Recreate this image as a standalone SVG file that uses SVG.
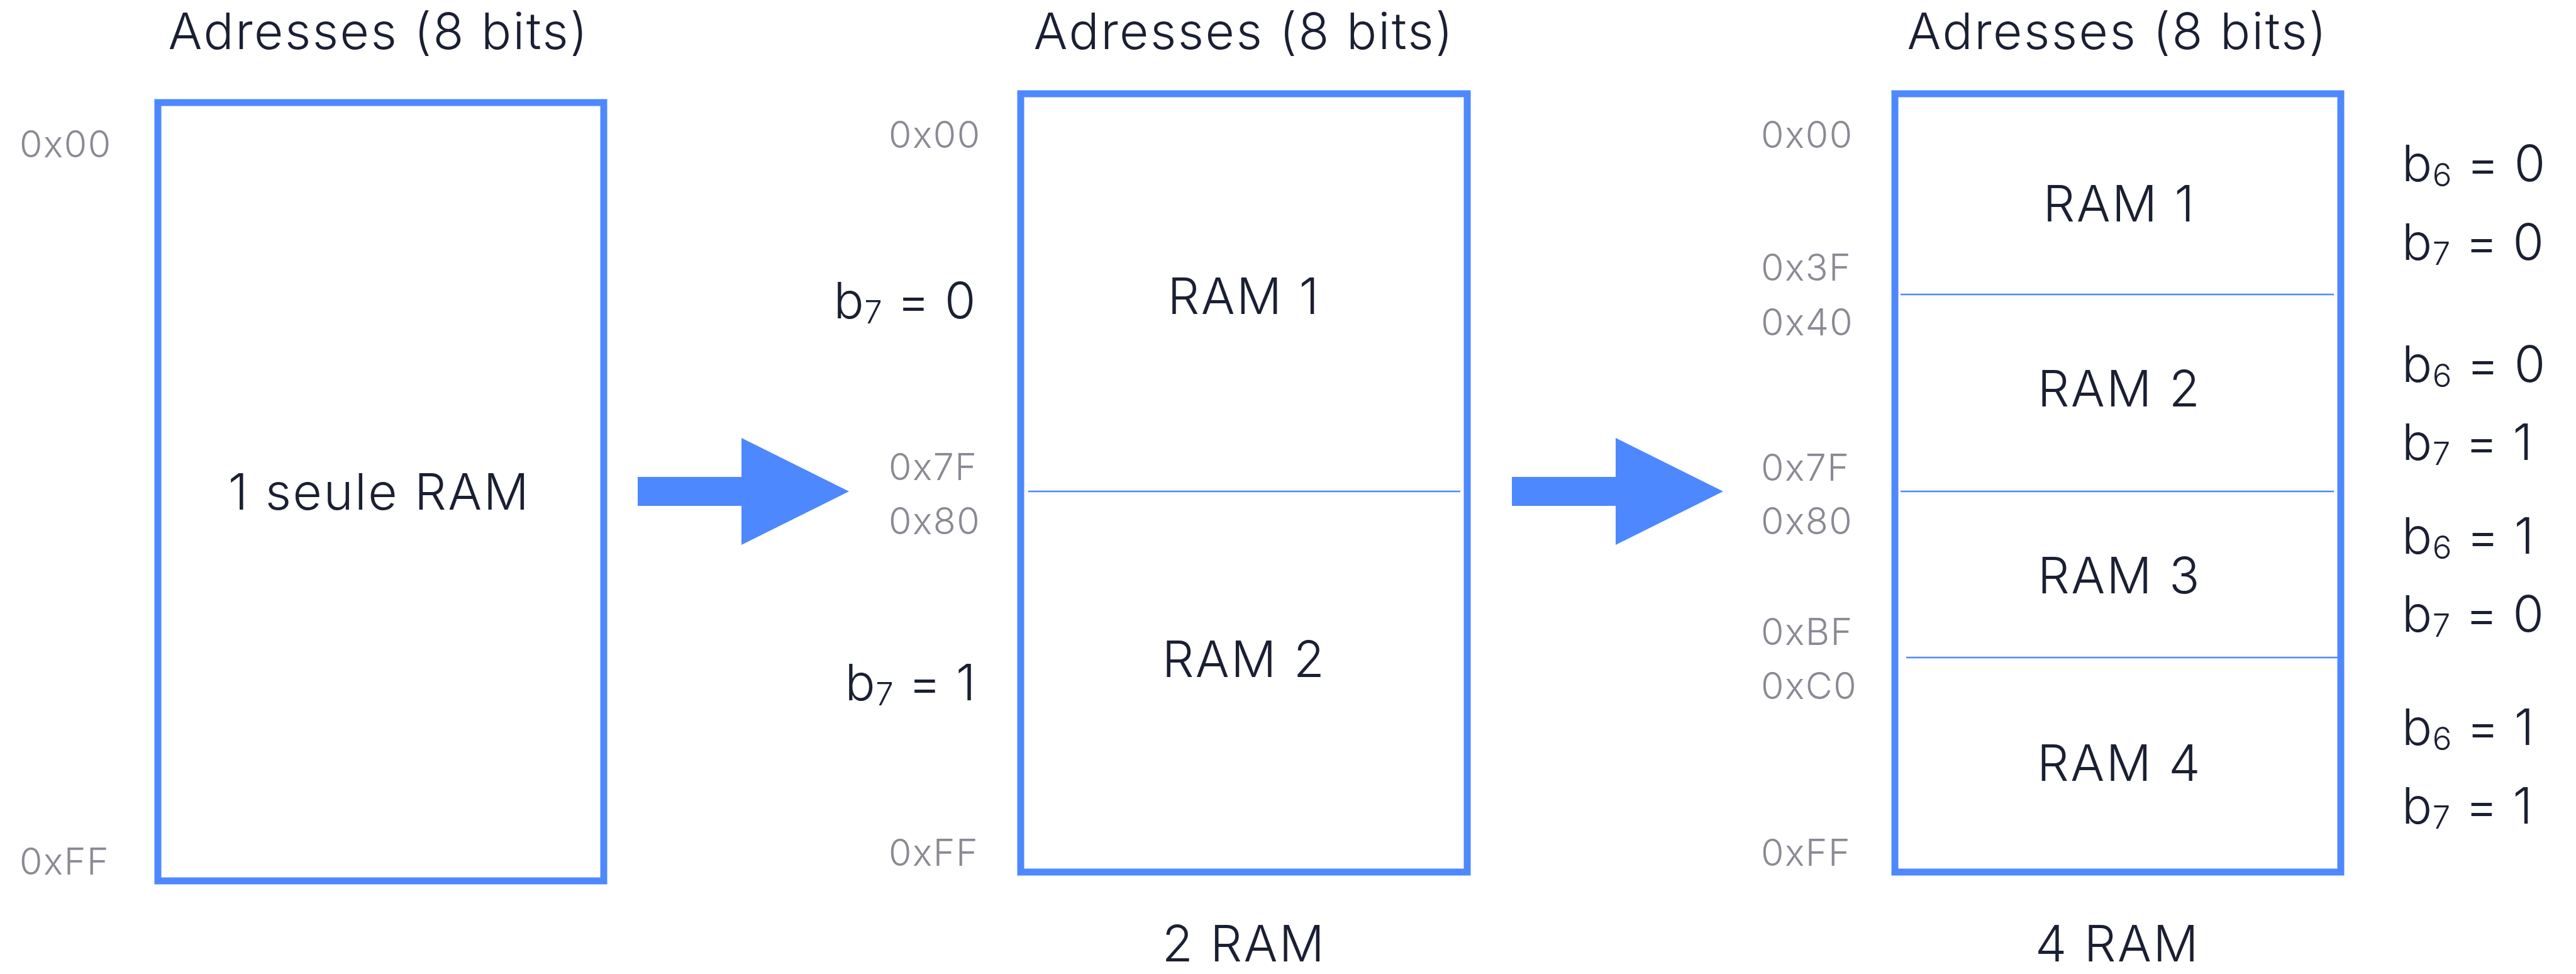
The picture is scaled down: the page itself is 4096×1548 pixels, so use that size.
<svg xmlns="http://www.w3.org/2000/svg" width="4096" height="1548" viewBox="0 0 4096 1548">
  <style>
    .frame { fill: none; stroke: #4D88FF; stroke-width: 11; }
    .split { stroke: #4D88FF; stroke-width: 2.5; }
    .arrow { fill: #4D88FF; }
    .txt { font-family: Inter, "Open Sans", "Liberation Sans", sans-serif; font-weight: 300; font-size: 80px; letter-spacing: 2.5px; fill: #1B1F33; }
    .bit { letter-spacing: 0.5px; }
    .mid { text-anchor: middle; }
    .end { text-anchor: end; }
    .addr { font-family: Inter, "Open Sans", "Liberation Sans", sans-serif; font-weight: 300; font-size: 59px; letter-spacing: 1.5px; fill: #8A8994; }
    .sub { font-size: 51px; }
  </style>
  <rect width="4096" height="1548" fill="#FFFFFF"/>

  <!-- single memory block -->
  <g id="one-ram">
    <text class="txt mid" x="602" y="78">Adresses (8 bits)</text>
    <rect class="frame" x="251" y="163" width="709" height="1237"/>
    <text class="txt mid" x="603" y="810">1 seule RAM</text>
    <text class="addr" x="31" y="250">0x00</text>
    <text class="addr" x="31" y="1390">0xFF</text>
  </g>

  <!-- split into two memories on b7 -->
  <g id="two-ram">
    <text class="txt mid" x="1978" y="78">Adresses (8 bits)</text>
    <rect class="frame" x="1623" y="149" width="710" height="1237"/>
    <line class="split" x1="1635" y1="781" x2="2322" y2="781"/>
    <text class="txt mid" x="1978" y="499">RAM 1</text>
    <text class="txt mid" x="1978" y="1076">RAM 2</text>
    <text class="addr" x="1413" y="235">0x00</text>
    <text class="addr" x="1413" y="763">0x7F</text>
    <text class="addr" x="1413" y="849">0x80</text>
    <text class="addr" x="1413" y="1376">0xFF</text>
    <text class="txt bit end" x="1552" y="506">b<tspan class="sub" dy="8">7</tspan><tspan dy="-8"> = 0</tspan></text>
    <text class="txt bit end" x="1552" y="1113">b<tspan class="sub" dy="8">7</tspan><tspan dy="-8"> = 1</tspan></text>
    <text class="txt mid" x="1978" y="1528">2 RAM</text>
  </g>

  <!-- split into four memories on b6/b7 -->
  <g id="four-ram">
    <text class="txt mid" x="3367" y="78">Adresses (8 bits)</text>
    <rect class="frame" x="3013" y="149" width="709" height="1237"/>
    <line class="split" x1="3022" y1="468" x2="3711" y2="468"/>
    <line class="split" x1="3022" y1="781" x2="3711" y2="781"/>
    <line class="split" x1="3031" y1="1045" x2="3720" y2="1045"/>
    <text class="txt mid" x="3370" y="352">RAM 1</text>
    <text class="txt mid" x="3370" y="646">RAM 2</text>
    <text class="txt mid" x="3370" y="943">RAM 3</text>
    <text class="txt mid" x="3370" y="1241">RAM 4</text>
    <text class="addr" x="2800" y="235">0x00</text>
    <text class="addr" x="2800" y="446">0x3F</text>
    <text class="addr" x="2800" y="533">0x40</text>
    <text class="addr" x="2800" y="764">0x7F</text>
    <text class="addr" x="2800" y="849">0x80</text>
    <text class="addr" x="2800" y="1025">0xBF</text>
    <text class="addr" x="2800" y="1111">0xC0</text>
    <text class="addr" x="2800" y="1376">0xFF</text>
    <text class="txt bit" x="3819" y="288">b<tspan class="sub" dy="8">6</tspan><tspan dy="-8"> = 0</tspan></text>
    <text class="txt bit" x="3819" y="413">b<tspan class="sub" dy="8">7</tspan><tspan dy="-8"> = 0</tspan></text>
    <text class="txt bit" x="3819" y="607">b<tspan class="sub" dy="8">6</tspan><tspan dy="-8"> = 0</tspan></text>
    <text class="txt bit" x="3819" y="731">b<tspan class="sub" dy="8">7</tspan><tspan dy="-8"> = 1</tspan></text>
    <text class="txt bit" x="3819" y="880">b<tspan class="sub" dy="8">6</tspan><tspan dy="-8"> = 1</tspan></text>
    <text class="txt bit" x="3819" y="1004">b<tspan class="sub" dy="8">7</tspan><tspan dy="-8"> = 0</tspan></text>
    <text class="txt bit" x="3819" y="1184">b<tspan class="sub" dy="8">6</tspan><tspan dy="-8"> = 1</tspan></text>
    <text class="txt bit" x="3819" y="1309">b<tspan class="sub" dy="8">7</tspan><tspan dy="-8"> = 1</tspan></text>
    <text class="txt mid" x="3367" y="1528">4 RAM</text>
  </g>

  <!-- block arrows between the stages -->
  <g id="connectors">
    <polygon class="arrow" points="1014,758 1179,758 1179,696 1350,781 1179,866 1179,804 1014,804"/>
    <polygon class="arrow" points="2404,758 2569,758 2569,696 2740,781 2569,866 2569,804 2404,804"/>
  </g>
</svg>
